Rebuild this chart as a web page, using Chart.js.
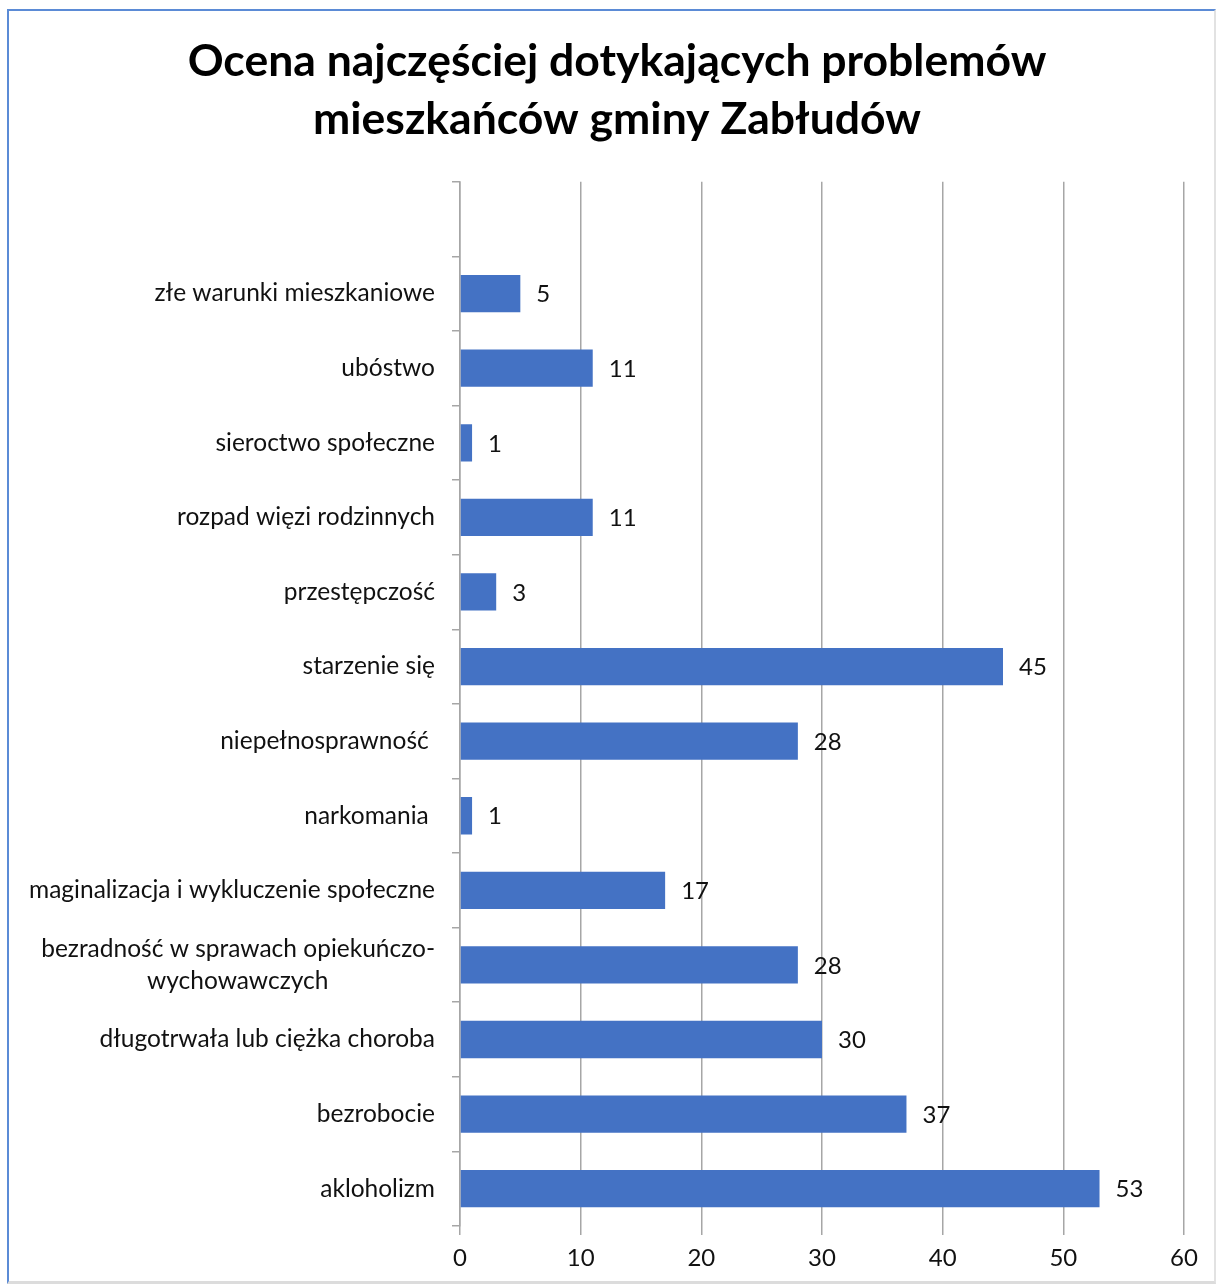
<!DOCTYPE html>
<html>
<head>
<meta charset="utf-8">
<script src="https://cdn.jsdelivr.net/npm/chart.js@4"></script>
<style>
  body { margin: 0; background: #fff; }
  #wrap { position: relative; width: 1216px; height: 1286px; overflow: hidden; }
  #frame {
    position: absolute; left: 7px; top: 9px; width: 1205px; height: 1270px;
    border-top: 2px solid #5b8bd6; border-left: 2px solid #5b8bd6;
    border-right: 2px solid #e2e2e2; border-bottom: 3px solid #dcdcdc;
    pointer-events: none;
  }
</style>
</head>
<body>
<div id="wrap">
  <canvas id="chart"></canvas>
  <div id="frame"></div>
</div>
<script>
const titleLines = ["Ocena najczęściej dotykających problemów", "mieszkańców gminy Zabłudów"];

const categories = [
  "",
  "złe warunki mieszkaniowe",
  "ubóstwo",
  "sieroctwo społeczne",
  "rozpad więzi rodzinnych",
  "przestępczość",
  "starzenie się",
  "niepełnosprawność ",
  "narkomania ",
  "maginalizacja i wykluczenie społeczne",
  ["bezradność w sprawach opiekuńczo-", "wychowawczych" + " ".repeat(17)],
  "długotrwała lub ciężka choroba",
  "bezrobocie",
  "akloholizm"
];

const values = [null, 5, 11, 1, 11, 3, 45, 28, 1, 17, 28, 30, 37, 53];

const xTicks = [0, 10, 20, 30, 40, 50, 60];

const labelFont = { family: "Lato", size: 24 };

// draws the value just right of each bar
const valueLabels = {
  id: "valueLabels",
  afterLayout(chart) {
    // title in the original is centred a bit right of the plot's middle
    if (chart.titleBlock) chart.titleBlock.left = 50;
  },
  afterDatasetsDraw(chart) {
    const ctx = chart.ctx;
    const meta = chart.getDatasetMeta(0);
    ctx.save();
    ctx.font = "24px Lato";
    ctx.fillStyle = "#111";
    ctx.textAlign = "left";
    ctx.textBaseline = "middle";
    meta.data.forEach((bar, i) => {
      if (values[i] == null) return;
      ctx.fillText(String(values[i]), bar.x + 16, bar.y + 1);
    });
    ctx.restore();
  }
};

new Chart(document.getElementById("chart"), {
  type: "bar",
  data: {
    labels: categories,
    datasets: [{
      data: values,
      backgroundColor: "#4472c4",
      categoryPercentage: 1,
      barPercentage: 0.5
    }]
  },
  options: {
    indexAxis: "y",
    responsive: true,
    maintainAspectRatio: false,
    animation: false,
    layout: { padding: { top: 0, right: 32, bottom: 0, left: 0 } },
    plugins: {
      legend: { display: false },
      tooltip: { enabled: false },
      title: {
        display: true,
        text: titleLines,
        color: "#000",
        font: { family: "Lato", size: 44.5, weight: "bold", lineHeight: 1.3 },
        padding: { top: 33, bottom: 33 }
      }
    },
    scales: {
      x: {
        min: 0,
        max: 60,
        afterBuildTicks(scale) {
          scale.ticks = xTicks.map(v => ({ value: v }));
        },
        afterFit(scale) { scale.height = 60; },
        border: { display: false },
        grid: { color: "#a6a6a6", lineWidth: 1.5, tickLength: 9 },
        ticks: { color: "#111", font: labelFont, padding: 9, maxRotation: 0 }
      },
      y: {
        afterFit(scale) { scale.width = 460; },
        border: { display: true, color: "#a6a6a6", width: 1.5 },
        grid: { drawOnChartArea: false, offset: true, color: "#a6a6a6", lineWidth: 1.5, tickLength: 8 },
        ticks: { color: "#111", font: { family: "Lato", size: 24.5, lineHeight: 1.32 }, padding: 17, autoSkip: false }
      }
    }
  },
  plugins: [valueLabels]
});
</script>
</body>
</html>
